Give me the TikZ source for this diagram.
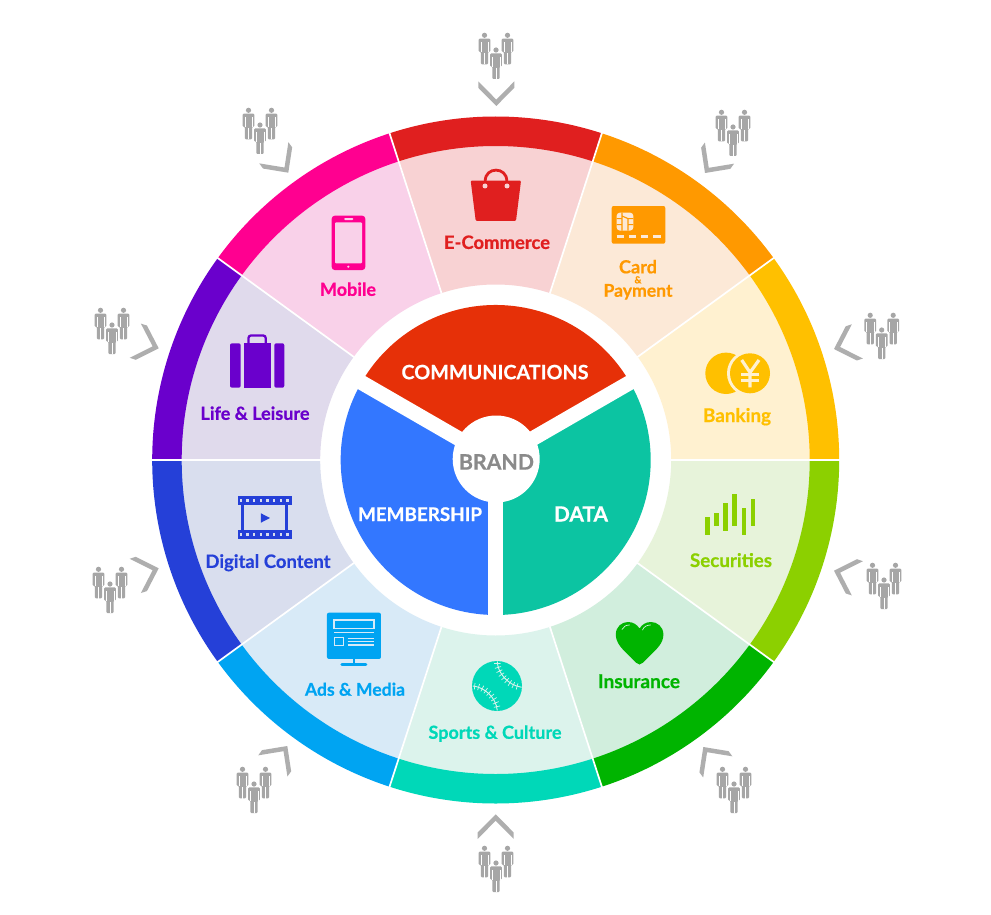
\documentclass[tikz,border=0pt]{standalone}
\usepackage{fontspec}
\usepackage{graphicx}
\setmainfont{Lato}[BoldFeatures={FakeBold=0.6}]
\usetikzlibrary{decorations.pathreplacing}
\definecolor{bandA}{HTML}{E01F1F}\definecolor{lightA}{HTML}{F8D2D3}
\definecolor{bandB}{HTML}{FF9900}\definecolor{lightB}{HTML}{FCE9D7}
\definecolor{bandC}{HTML}{FFC000}\definecolor{lightC}{HTML}{FFF1D0}
\definecolor{bandD}{HTML}{8CD000}\definecolor{lightD}{HTML}{E7F3DA}
\definecolor{bandE}{HTML}{00B400}\definecolor{lightE}{HTML}{D1EEDD}
\definecolor{bandF}{HTML}{00D8B8}\definecolor{lightF}{HTML}{DCF3EC}
\definecolor{bandG}{HTML}{00A4F2}\definecolor{lightG}{HTML}{D8EAF7}
\definecolor{bandH}{HTML}{2540D8}\definecolor{lightH}{HTML}{D9DEEE}
\definecolor{bandI}{HTML}{6A00CC}\definecolor{lightI}{HTML}{E0DAEC}
\definecolor{bandJ}{HTML}{FF0090}\definecolor{lightJ}{HTML}{F9D1E9}
\definecolor{coreA}{HTML}{E63008}
\definecolor{coreB}{HTML}{3377FF}
\definecolor{coreC}{HTML}{0CC4A2}
\definecolor{peoplegray}{HTML}{A6A6A6}
\definecolor{chevgray}{HTML}{AEAEAE}
\definecolor{brandgray}{HTML}{8A8A8A}
\newcommand{\wtxt}[2]{\resizebox{#1pt}{!}{\strut\bfseries #2}}
\newcommand{\wedgepart}[5]{%
  \fill[#5] (#1:#3) arc[start angle=#1,end angle=#2,radius=#3] -- (#2:#4) arc[start angle=#2,end angle=#1,radius=#4] -- cycle;}
\newcommand{\wheelpart}[4]{%
  \wedgepart{#1}{#2}{175.5}{314.5}{#4}
  \wedgepart{#1}{#2}{314}{343.5}{#3}}
\tikzset{
  lbl/.style={inner sep=0pt,outer sep=0pt,anchor=center,yshift=-2.5pt},
  people/.pic={
    \foreach \dx/\dy in {-11.5/-14.7,11.5/-14.7,0/0}{
      \begin{scope}[shift={(\dx,\dy)}]
        \fill[peoplegray] (0,0) circle (2.6);
        \fill[peoplegray,rounded corners=1] (-5.8,3.4) -- (5.8,3.4) -- (5.8,16.5) -- (3.6,16.5) -- (3.6,29) -- (-3.6,29) -- (-3.6,16.5) -- (-5.8,16.5) -- cycle;
        \draw[white,line width=0.3] (-3.7,7) -- (-3.7,17) (3.7,7) -- (3.7,17) (0,18) -- (0,29.2);
      \end{scope}}
  },
  chev/.pic={
    \fill[chevgray] (0,0) -- (-18,-18.2) -- (-18,-24.6) -- (0,-6.4) -- (18,-24.6) -- (18,-18.2) -- cycle;
  }
}
\begin{document}
\begin{tikzpicture}[x=1pt,y=-1pt]
\useasboundingbox (0,0) rectangle (991,915);
\fill[white] (0,0) rectangle (991,915);
% wheel
\begin{scope}[shift={(495.7,460)},x=1pt,y=1pt]
  \wheelpart{72}{108}{bandA}{lightA}
  \wheelpart{36}{72}{bandB}{lightB}
  \wheelpart{0}{36}{bandC}{lightC}
  \wheelpart{-36}{0}{bandD}{lightD}
  \wheelpart{-72}{-36}{bandE}{lightE}
  \wheelpart{-108}{-72}{bandF}{lightF}
  \wheelpart{-144}{-108}{bandG}{lightG}
  \wheelpart{-180}{-144}{bandH}{lightH}
  \wheelpart{144}{180}{bandI}{lightI}
  \wheelpart{108}{144}{bandJ}{lightJ}
  \foreach \a in {0,36,...,324}{\draw[white,line width=1.7] (\a:175) -- (\a:345);}
  % core
  \fill[coreA] (0,0) -- (30:155) arc[start angle=30,end angle=150,radius=155] -- cycle;
  \fill[coreC] (0,0) -- (-90:155) arc[start angle=-90,end angle=30,radius=155] -- cycle;
  \fill[coreB] (0,0) -- (150:155) arc[start angle=150,end angle=270,radius=155] -- cycle;
  \foreach \a in {30,150,270}{\draw[white,line width=15] (0,0) -- (\a:158);}
  \fill[white] (0.5,1) circle (43.5);
\end{scope}
% core texts
\node[lbl,text=white] (comm) at (495,372) {\wtxt{187}{COMMUNICATIONS}};
\node[lbl,text=white] (memb) at (420,514) {\wtxt{124}{MEMBERSHIP}};
\node[lbl,text=white] (data) at (581,514) {\wtxt{54}{DATA}};
\node[lbl,text=brandgray] (brand) at (496.5,462) {\wtxt{75}{BRAND}};
% labels
\node[lbl,text=bandA] (ecom) at (497,242) {\wtxt{106}{E-Commerce}};
\node[lbl,text=bandB] (card) at (638,266.5) {\wtxt{38}{Card}};
\node[lbl,text=bandB] (amp) at (638,278.5) {\wtxt{7}{\&}};
\node[lbl,text=bandB] (pay) at (638,290) {\wtxt{69}{Payment}};
\node[lbl,text=bandC] (bank) at (737,415) {\wtxt{68}{Banking}};
\node[lbl,text=bandD] (secu) at (731,560) {\wtxt{82}{Securities}};
\node[lbl,text=bandE] (insu) at (639,681) {\wtxt{82}{Insurance}};
\node[lbl,text=bandF] (spor) at (495,732) {\wtxt{133}{Sports \& Culture}};
\node[lbl,text=bandG] (adsm) at (355,689) {\wtxt{100}{Ads \& Media}};
\node[lbl,text=bandH] (digi) at (268,561) {\wtxt{125}{Digital Content}};
\node[lbl,text=bandI] (life) at (255,413) {\wtxt{109}{Life \& Leisure}};
\node[lbl,text=bandJ] (mobi) at (348,289) {\wtxt{56}{Mobile}};
% bag
\fill[bandA,rounded corners=1] (470.7,180.7) -- (521,180.7) -- (516,220.8) -- (475.7,220.8) -- cycle;
\draw[bandA,line width=2.8] (485.2,181) .. controls (485.2,166.5) and (506.8,166.5) .. (506.8,181);
\fill[lightA] (485,186) circle (2.5) (507,186) circle (2.5);
% card
\fill[bandB,rounded corners=2] (611.7,206) rectangle (665.3,243.7);
\begin{scope}
  \fill[lightB,rounded corners=3] (616.7,212.7) rectangle (633.3,230.5);
  \draw[bandB,line width=1.1] (616.7,218.6) -- (622,218.6) (616.7,224.6) -- (622,224.6) (628,218.6) -- (633.3,218.6) (628,224.6) -- (633.3,224.6) (622,212.7) -- (622,230.5) (628,218.6) -- (628,230.5) (622,216) -- (628,218.6);
  \draw[lightB,line width=2.6] (616.7,236.7) -- (623.5,236.7) (629,236.7) -- (636,236.7) (641,236.7) -- (648,236.7) (653,236.7) -- (660.7,236.7);
\end{scope}
% banking
\fill[bandC] (726,373.3) circle (20.7);
\fill[lightC] (750,373.3) circle (23);
\fill[bandC] (750,373.3) circle (20);
\draw[lightC,line width=3.2] (741.7,360) -- (750,372.5) -- (759,360) (750,372.5) -- (750,387.3);
\draw[lightC,line width=2.6] (741,374.5) -- (759,374.5) (741,380.5) -- (759,380.5);
% securities
\foreach \c/\a/\b in {202/652/706,229/638/678,257/610/692,284/583/678,312/624/706,339/597/678}{
  \fill[bandD] ({640+\c/3-2.2},{300+\a/3}) rectangle ({640+\c/3+2.2},{300+\b/3});
}
% heart
\fill[bandE] (639.5,664.5) .. controls (637.5,664.5) and (636,662.5) .. (631,657.5) .. controls (622,649) and (615.8,643) .. (615.8,634.5) .. controls (615.8,626.5) and (622,622) .. (628,622) .. controls (633,622) and (637,624.5) .. (639.5,628.5) .. controls (642,624.5) and (646,622) .. (651,622) .. controls (657,622) and (663.4,626.5) .. (663.4,634.5) .. controls (663.4,643) and (657,649) .. (648,657.5) .. controls (643,662.5) and (641.5,664.5) .. (639.5,664.5) -- cycle;
\draw[lightE,line width=0.7,line cap=round] (622,629.5) .. controls (623.5,626.5) and (626,625) .. (629.5,625) (642.5,630) .. controls (644,626.5) and (647,625) .. (650.5,625);
% baseball
\fill[bandF] (497,686) circle (25);
\draw[lightF,line width=0.9] (497.3,661.5) .. controls (497.5,672) and (507,685) .. (521.7,687.3);
\draw[lightF,line width=0.9] (472.7,686) .. controls (484,687) and (496,697) .. (497.3,710.5);
\draw[lightF,line width=0.7,decorate,decoration={ticks,segment length=4pt,amplitude=3.2pt}] (497.3,663.5) .. controls (497.5,672) and (507,685) .. (519.7,687);
\draw[lightF,line width=0.7,decorate,decoration={ticks,segment length=4pt,amplitude=3.2pt}] (474.7,686.2) .. controls (484,687) and (496,697) .. (497.3,708.5);
% ads monitor
\begin{scope}[shift={(80,480)},x=0.3333pt,y=-0.3333pt]
  \fill[bandG,rounded corners=2] (741,398) rectangle (903,537);
  \draw[lightG,line width=1.3] (762,420) rectangle (882,445);
  \draw[lightG,line width=1.3] (762,457) -- (882,457);
  \draw[lightG,line width=1.3] (764,473) rectangle (790,497);
  \draw[lightG,line width=1.3] (803,475) -- (882,475) (803,485) -- (882,485) (803,495) -- (882,495);
  \draw[bandG,line width=1.8] (822,537) -- (822,553);
  \draw[bandG,line width=3,line cap=round] (786,555) -- (858,555);
\end{scope}
% film strip
\begin{scope}[shift={(80,480)},x=0.3333pt,y=-0.3333pt]
  \fill[bandH] (473,47) rectangle (635,75);
  \fill[bandH] (473,150) rectangle (635,178);
  \foreach \x in {483,503,523,543,563,583,603,623}{
    \fill[lightH] (\x-3.5,57) rectangle (\x+3.5,65);
    \fill[lightH] (\x-3.5,160) rectangle (\x+3.5,168);
  }
  \fill[bandH] (483,75) rectangle (491,150);
  \fill[bandH] (616,75) rectangle (624,150);
  \fill[bandH] (543,100) -- (570,114) -- (543,128) -- cycle;
\end{scope}
% suitcase
\fill[bandI,rounded corners=2] (230,343.3) rectangle (240.7,387.7);
\fill[bandI] (243.7,343.3) rectangle (271.3,387.7);
\fill[bandI,rounded corners=2] (274.3,343.3) rectangle (284.3,387.7);
\draw[bandI,line width=2.3,rounded corners=2.5] (248.5,343.3) -- (248.5,335.5) -- (265.7,335.5) -- (265.7,343.3);
% phone
\fill[bandJ,rounded corners=3] (331.7,215.7) rectangle (365.3,270);
\fill[lightJ,rounded corners=1] (335,222.3) rectangle (362,263.3);
\fill[lightJ,rounded corners=1] (344,218) rectangle (353.3,220);
\fill[lightJ] (348.3,266.7) circle (1.2);
% people
\foreach \x/\y in {496/50,733/127,881.7/330,884/580,734/784,496/863,254/784,110/584,112/325,260/125}{
  \path (\x,\y) pic {people};
}
% chevrons
\foreach \x/\y/\r in {496.3/106/0,705/173/-36,834/349/-72,834/570.7/-108,703.3/747/-144,495.7/814.3/180,287.3/746/144,158.7/568.3/108,158.7/348.3/72,288.3/172.7/36}{
  \path (\x,\y) pic[rotate=\r] {chev};
}
\end{tikzpicture}
\end{document}
